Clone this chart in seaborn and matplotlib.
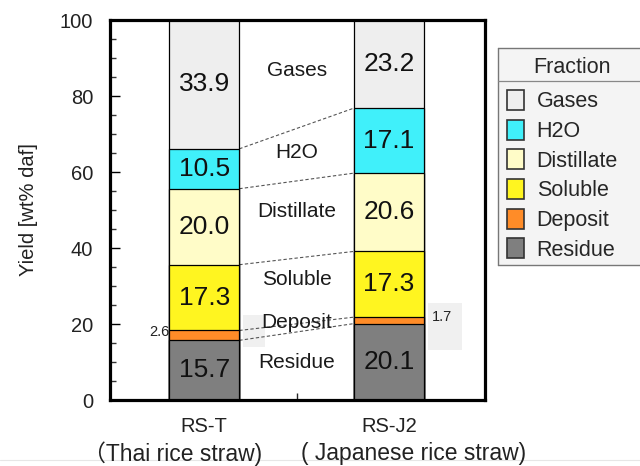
import numpy as np
import pandas as pd
import seaborn as sns
import matplotlib
matplotlib.use("Agg")
import matplotlib.pyplot as plt
from matplotlib.patches import Patch, Rectangle
from matplotlib.lines import Line2D

# Yield fractions (wt% daf), bottom to top of each stacked bar
samples = ["RS-T", "RS-J2"]
sample_notes = ["（Thai rice straw)", "( Japanese rice straw)"]
fractions = ["Residue", "Deposit", "Soluble", "Distillate", "H2O", "Gases"]
rs_t = [15.7, 2.6, 17.3, 20.0, 10.5, 33.9]
rs_j2 = [20.1, 1.7, 17.3, 20.6, 17.1, 23.2]
colors = ["#7f7f7f", "#ff8c28", "#fff520", "#fffcc8", "#40f0fa", "#eeeeee"]
y_ticks = [0, 20, 40, 60, 80, 100]

sns.set_theme(style="white")
plt.rcParams["font.family"] = ["Liberation Sans", "Noto Sans CJK JP", "DejaVu Sans"]

values = np.array([rs_t, rs_j2])          # shape (sample, fraction)
tops = np.cumsum(values, axis=1)          # upper edge of each segment
bottoms = tops - values

fig = plt.figure(figsize=(6.4, 4.66), dpi=100)
ax = fig.add_axes([110 / 640, 66 / 466, 375 / 640, 380 / 466])

bar_w = 0.38
# Stack by overdrawing cumulative heights from the top fraction downward
for k in range(len(fractions) - 1, -1, -1):
    df = pd.DataFrame({"sample": samples, "top": tops[:, k]})
    sns.barplot(data=df, x="sample", y="top", color=colors[k], saturation=1,
                width=bar_w, edgecolor="black", linewidth=0.9, ax=ax, zorder=2)

ax.set_xlim(-0.51, 1.52)
ax.set_ylim(0, 100)

# Light label panels around the small deposit annotations
for x0, y0, w, h in [(0.355, 0.139, 0.058, 0.085), (0.848, 0.132, 0.091, 0.123)]:
    ax.add_patch(Rectangle((x0, y0), w, h, transform=ax.transAxes,
                           facecolor="#f0f0f0", edgecolor="none", zorder=0.5))

# Segment values inside the bars (small deposit values sit beside the bars)
for i in range(len(samples)):
    for k, f in enumerate(fractions):
        v = values[i, k]
        mid = (bottoms[i, k] + tops[i, k]) / 2
        if f == "Deposit":
            continue
        ax.text(i, mid, f"{v:.1f}", ha="center", va="center",
                fontsize=19, color="#111111", zorder=4)
dep = fractions.index("Deposit")
ax.text(0 - bar_w / 2, (bottoms[0, dep] + tops[0, dep]) / 2 + 0.9,
        f"{values[0, dep]:.1f}", ha="right", va="center", fontsize=10.5, color="#222222")
ax.text(1 + bar_w / 2 + 0.04, tops[1, dep], f"{values[1, dep]:.1f}",
        ha="left", va="center", fontsize=10.5, color="#222222")

# Dashed connectors between matching segment boundaries
for k in range(len(fractions) - 1):
    ax.plot([0 + bar_w / 2, 1 - bar_w / 2], [tops[0, k], tops[1, k]],
            ls=(0, (3, 2)), lw=0.8, color="#555555", zorder=1)

# Fraction names between the bars
name_y = [10, 20.5, 31.6, 49.5, 65, 86.8]
for f, yv in zip(fractions, name_y):
    ax.text(0.5, yv, f, ha="center", va="center", fontsize=15,
            color="#1a1a1a", zorder=3)

# Axes styling
for s in ax.spines.values():
    s.set_linewidth(2.3)
    s.set_color("black")
ax.set_yticks(y_ticks)
ax.set_yticks(np.arange(0, 101, 5), minor=True)
ax.tick_params(axis="y", which="major", direction="in", length=7, width=1,
               labelsize=14.5, pad=12, left=True, colors="black")
ax.tick_params(axis="y", which="minor", direction="in", length=4, width=1,
               left=True, color="#333333")
ax.tick_params(axis="y", labelcolor="#222222")
ax.set_xticks([0, 0.5, 1])
ax.set_xticklabels([samples[0], "", samples[1]])
ax.tick_params(axis="x", direction="in", length=5, width=1, bottom=True,
               labelsize=14.5, pad=12, labelcolor="#222222")
ax.set_xlabel("")
ax.set_ylabel("Yield [wt% daf]", fontsize=14.5, color="#222222", labelpad=16)

for i, note in enumerate(sample_notes):
    off = -0.17 if i == 0 else 0.135
    ax.text(i + off, -14.2, note, ha="center", va="center", fontsize=16.5,
            color="#222222", transform=ax.transData, clip_on=False)

# Legend panel on the right, open where it runs off the figure edge
leg_left, leg_top, leg_bottom = 498 / 640, 1 - 48 / 466, 1 - 265 / 466
fig.add_artist(Rectangle((leg_left, leg_bottom), 1.0 - leg_left, leg_top - leg_bottom,
                         transform=fig.transFigure, facecolor="#f4f4f4",
                         edgecolor="none", zorder=1))
for xs, ys in [([leg_left, 1.0], [leg_top, leg_top]),
               ([leg_left, 1.0], [leg_bottom, leg_bottom]),
               ([leg_left, leg_left], [leg_bottom, leg_top])]:
    fig.add_artist(Line2D(xs, ys, color="#777777", lw=1.0, zorder=2))
fig.add_artist(Line2D([leg_left, 1.0], [1 - 81 / 466] * 2, color="#888888",
                      lw=0.9, zorder=2))
handles = [Patch(facecolor=colors[k], edgecolor="#333333", linewidth=1.2, label=fractions[k])
           for k in range(len(fractions) - 1, -1, -1)]
leg = fig.legend(handles=handles, title="Fraction", loc="upper left",
                 bbox_to_anchor=(leg_left, leg_top - 0.1, 0.23, 0.1), mode="expand",
                 fontsize=15.5, title_fontsize=15.5, frameon=False,
                 handlelength=0.8, handleheight=1.05, handletextpad=0.6,
                 labelspacing=0.34, borderaxespad=0, borderpad=0.4, alignment="center")
leg._legend_box.sep = 9

fig.add_artist(Line2D([0, 1.0], [1 - 460 / 466] * 2, color="#e6e6e6", lw=0.8, zorder=0))

fig.savefig("out.png", dpi=100)
